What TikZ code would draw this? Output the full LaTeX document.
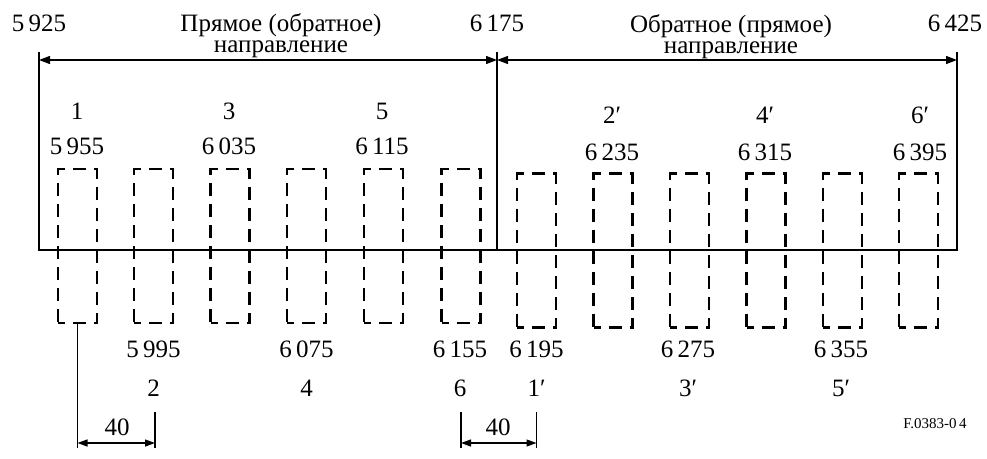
\documentclass[tikz,border=0pt]{standalone}
\usepackage{fontspec}
\setmainfont{Liberation Serif}
\usepackage{tikz}
\usetikzlibrary{arrows.meta}

\begin{document}
\begin{tikzpicture}[
  x=1pt, y=-1pt,
  freq/.style={inner sep=0pt, font=\fontsize{25}{25}\selectfont},
  ttl/.style={inner sep=0pt, anchor=base, align=center, font=\fontsize{25}{21}\selectfont},
  chan/.style={
    draw, line width=2.6pt, dash pattern=on 13pt off 8pt, dash phase=6pt,
    minimum width=39pt, minimum height=154pt, inner sep=0pt
  },
  frame/.style={line width=1.5pt},
  arr/.style={{Triangle[length=11pt,width=8pt]}-{Triangle[length=11pt,width=8pt]}, line width=1.3pt},
  dim/.style={{Triangle[length=10pt,width=7pt]}-{Triangle[length=10pt,width=7pt]}, line width=1.3pt},
]
\useasboundingbox (0,0) rectangle (987,458);

%% ── Band edges ───────────────────────────────────────────────────────────────
\coordinate (e1top) at (39,52);   \coordinate (e1bot) at (39,250);
\coordinate (e2top) at (497,52);  \coordinate (e2bot) at (497,250);
\coordinate (e3top) at (957,52);  \coordinate (e3bot) at (957,250);
\coordinate (a1) at (39,60);  \coordinate (a2) at (497,60);  \coordinate (a3) at (957,60);

\draw[frame] (e1top) -- (e1bot) -- (e3bot) -- (e3top);
\draw[frame] (e2top) -- (e2bot);
\draw[arr] (a1) -- (a2);
\draw[arr] (a2) -- (a3);

\node[freq] (f5925) at (39,23)  {5\,925};
\node[freq] (f6175) at (497,23) {6\,175};
\node[freq] (f6425) at (955,23) {6\,425};

% base anchor sits on the second line
\node[ttl] (dirL) at (281,52) {Прямое (обратное)\\направление};
\node[ttl] (dirR) at (731,53) {Обратное (прямое)\\направление};

%% ── Channels ─────────────────────────────────────────────────────────────────
\foreach \i/\x in {1/77.5, 2/153.5, 3/230, 4/306.5, 5/383.5, 6/461}
  \node[chan] (d\i) at (\x,246) {};
\foreach \i/\x in {1/536.5, 2/613, 3/689.5, 4/766, 5/842.5, 6/918.5}
  \node[chan] (r\i) at (\x,250.5) {};

%% ── Channel labels ───────────────────────────────────────────────────────────
\foreach \i/\x/\f in {1/77/{5\,955}, 3/229/{6\,035}, 5/382/{6\,115}} {
  \node[freq] (nd\i) at (\x,111) {\i};
  \node[freq] (fd\i) at (\x,146) {\f};
}
\foreach \i/\x/\f in {2/153.5/{5\,995}, 4/306.5/{6\,075}, 6/460/{6\,155}} {
  \node[freq] (fd\i) at (\x,349) {\f};
  \node[freq] (nd\i) at (\x,388) {\i};
}
\foreach \i/\x/\f in {2/612/{6\,235}, 4/765/{6\,315}, 6/920/{6\,395}} {
  \node[freq] (nr\i) at (\x,115) {\i′};
  \node[freq] (fr\i) at (\x,152.5) {\f};
}
\foreach \i/\x/\f in {1/536.5/{6\,195}, 3/688/{6\,275}, 5/841/{6\,355}} {
  \node[freq] (fr\i) at (\x,349) {\f};
  \node[freq] (nr\i) at (\x,388) {\i′};
}

%% ── Spacing ──────────────────────────────────────────────────────────────────
\coordinate (s1bot) at (77.5,448);
\coordinate (s2top) at (155,412);  \coordinate (s2bot) at (155,448);
\coordinate (s3top) at (461,412);  \coordinate (s3bot) at (461,448);
\coordinate (s4top) at (536.5,412);\coordinate (s4bot) at (536.5,448);
\coordinate (s1a) at (77.5,443);   \coordinate (s2a) at (155,443);
\coordinate (s3a) at (461,443);    \coordinate (s4a) at (536.5,443);

\draw[frame, line width=1.3pt] (d1.south) -- (s1bot);
\draw[frame, line width=1.3pt] (s2top) -- (s2bot);
\draw[frame, line width=1.3pt] (s3top) -- (s3bot);
\draw[frame, line width=1.3pt] (s4top) -- (s4bot);
\draw[dim] (s1a) -- (s2a);
\draw[dim] (s3a) -- (s4a);
\node[freq] (gapL) at (117,427) {40};
\node[freq] (gapR) at (498,427) {40};

\node[inner sep=0pt, font=\fontsize{15}{15}\selectfont] (figid) at (935,424) {F.0383-0\,4};

\end{tikzpicture}
\end{document}
